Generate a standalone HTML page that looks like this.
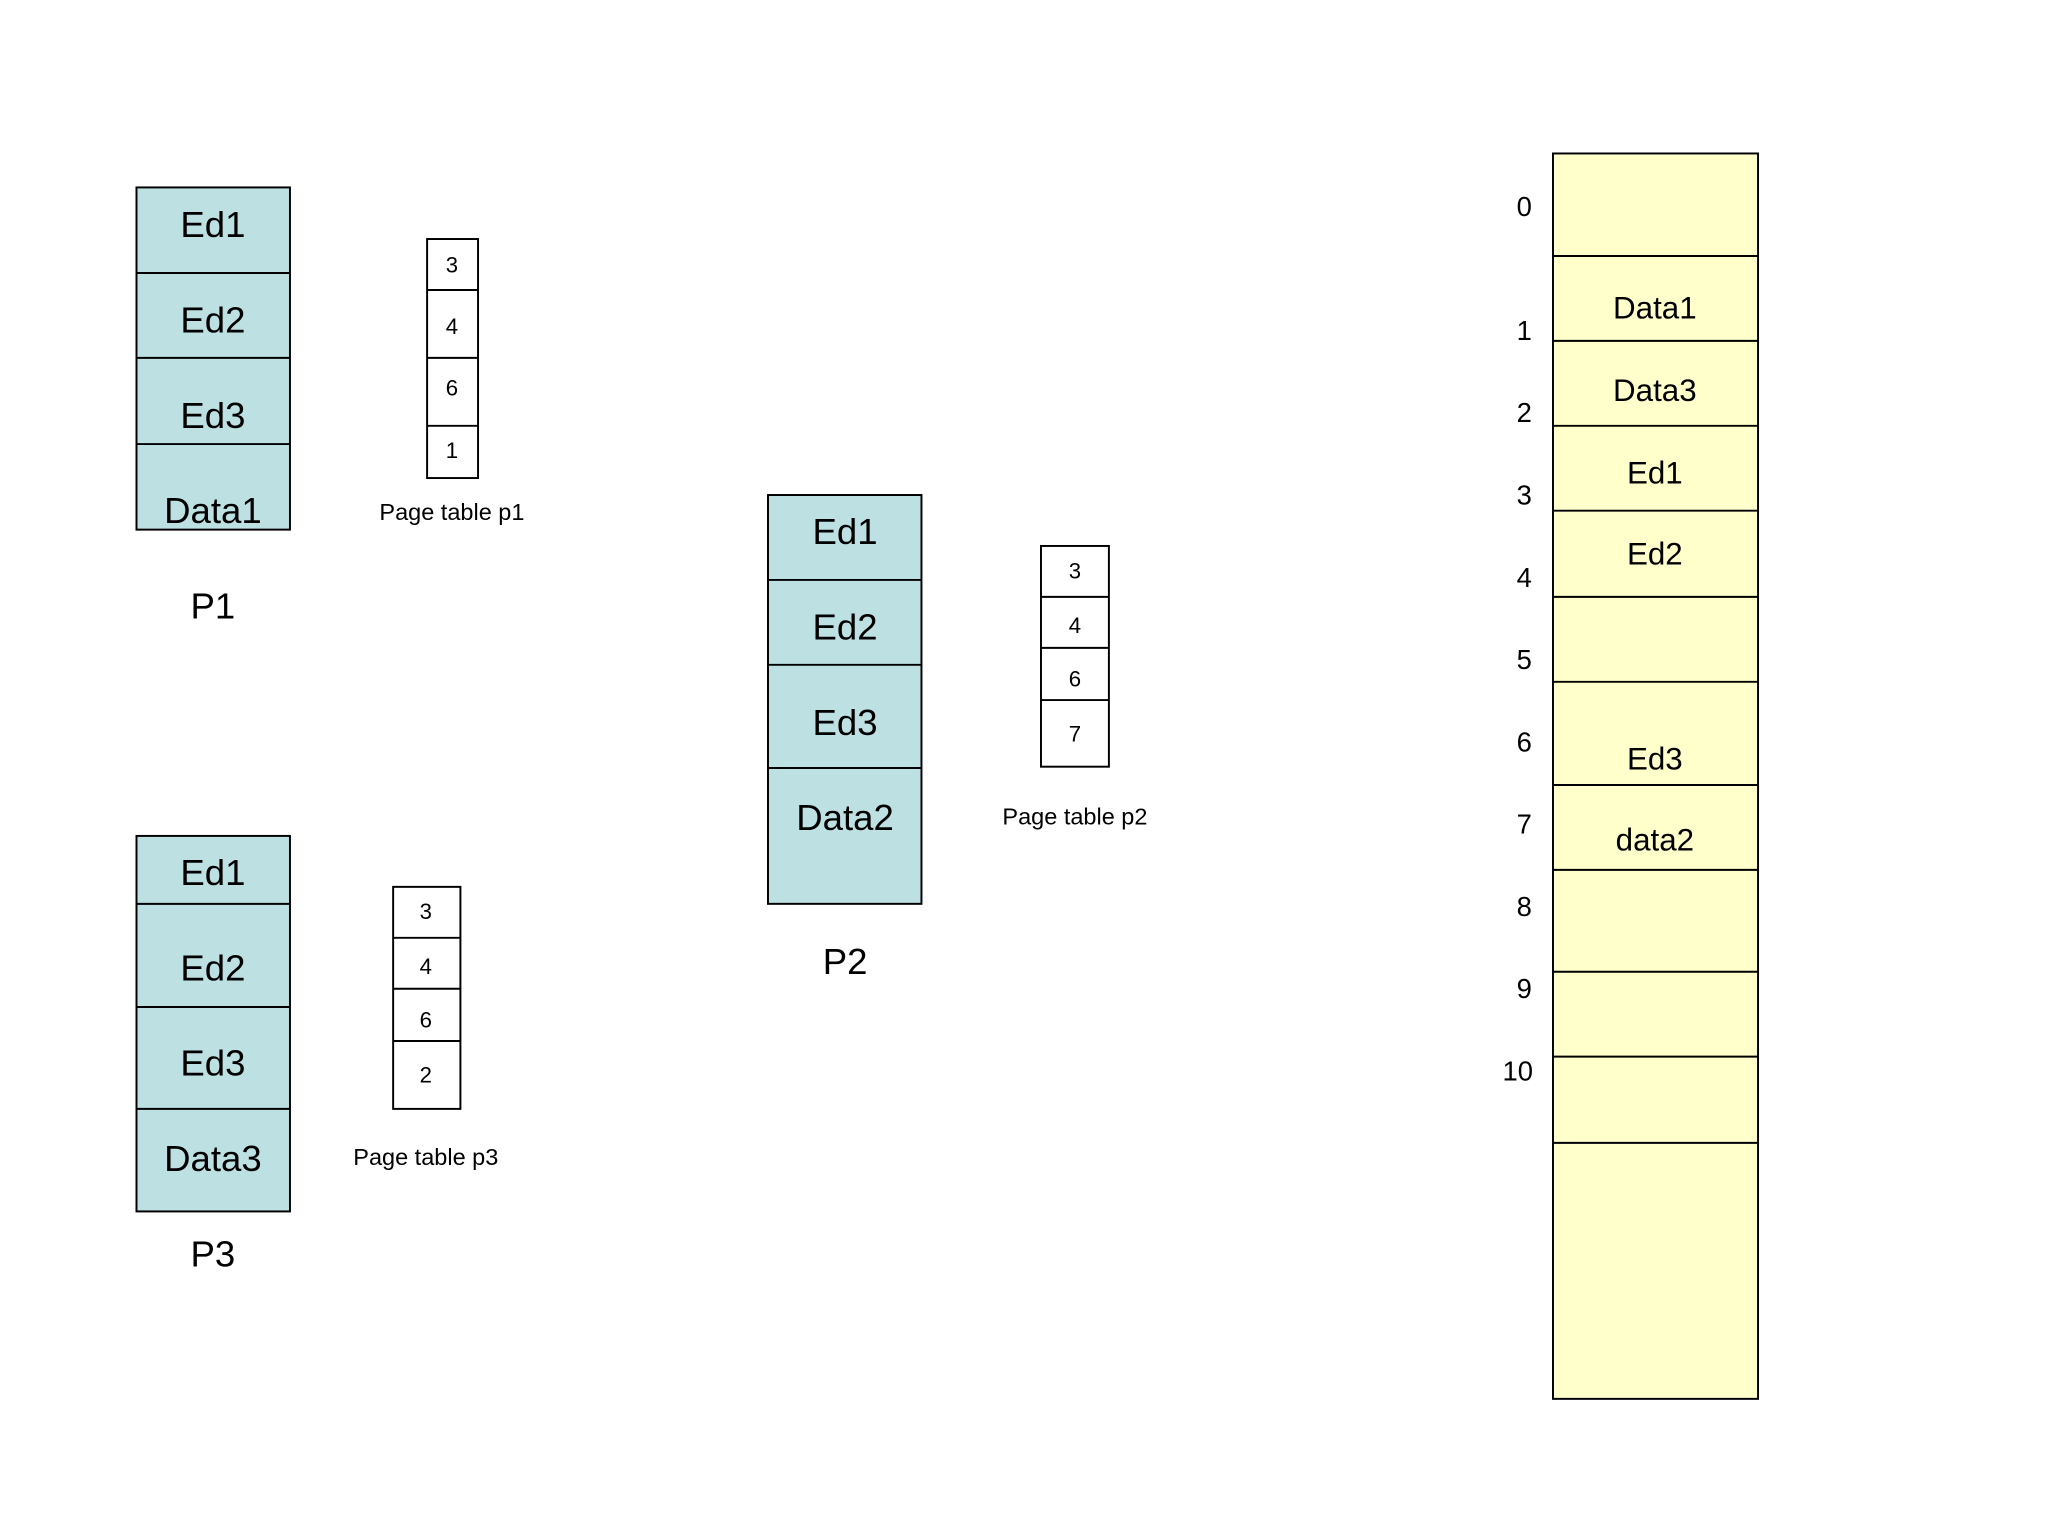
<!DOCTYPE html>
<html><head><meta charset="utf-8"><style>html,body{margin:0;padding:0;background:#fff}svg{display:block}</style></head>
<body>
<svg width="2048" height="1536" viewBox="0 0 1568 1176" xmlns="http://www.w3.org/2000/svg" font-family="Liberation Sans, Arial, sans-serif" text-anchor="middle" dominant-baseline="central">
<rect width="1568" height="1176" fill="#fff"/>
<g stroke="#000" stroke-width="1.5">
<!-- P1 -->
<rect x="104.5" y="143.5" width="117.5" height="262" fill="#bde0e3"/>
<line x1="104" y1="209" x2="222" y2="209"/><line x1="104" y1="274" x2="222" y2="274"/><line x1="104" y1="340" x2="222" y2="340"/>
<!-- P2 -->
<rect x="588" y="379" width="117.5" height="313" fill="#bde0e3"/>
<line x1="588" y1="444" x2="705" y2="444"/><line x1="588" y1="509" x2="705" y2="509"/><line x1="588" y1="588" x2="705" y2="588"/>
<!-- P3 -->
<rect x="104.5" y="640" width="117.5" height="287.5" fill="#bde0e3"/>
<line x1="104" y1="692" x2="222" y2="692"/><line x1="104" y1="771" x2="222" y2="771"/><line x1="104" y1="849" x2="222" y2="849"/>
<!-- PT1 -->
<rect x="327" y="183" width="39" height="183" fill="#fff"/>
<line x1="327" y1="222" x2="366" y2="222"/><line x1="327" y1="274" x2="366" y2="274"/><line x1="327" y1="326" x2="366" y2="326"/>
<!-- PT2 -->
<rect x="797" y="418" width="52" height="169" fill="#fff"/>
<line x1="797" y1="457" x2="849" y2="457"/><line x1="797" y1="496" x2="849" y2="496"/><line x1="797" y1="536" x2="849" y2="536"/>
<!-- PT3 -->
<rect x="301" y="679" width="51.5" height="170" fill="#fff"/>
<line x1="301" y1="718" x2="352" y2="718"/><line x1="301" y1="757" x2="352" y2="757"/><line x1="301" y1="797" x2="352" y2="797"/>
<!-- Memory -->
<rect x="1189" y="117.5" width="157" height="953.5" fill="#ffffcc"/>
<line x1="1189" y1="196" x2="1346" y2="196"/><line x1="1189" y1="261" x2="1346" y2="261"/><line x1="1189" y1="326" x2="1346" y2="326"/><line x1="1189" y1="391" x2="1346" y2="391"/><line x1="1189" y1="457" x2="1346" y2="457"/><line x1="1189" y1="522" x2="1346" y2="522"/><line x1="1189" y1="601" x2="1346" y2="601"/><line x1="1189" y1="666" x2="1346" y2="666"/><line x1="1189" y1="744" x2="1346" y2="744"/><line x1="1189" y1="809" x2="1346" y2="809"/><line x1="1189" y1="875" x2="1346" y2="875"/>
</g>
<g font-size="28" fill="#000">
<text x="163" y="172">Ed1</text><text x="163" y="245">Ed2</text><text x="163" y="318">Ed3</text><text x="163" y="391">Data1</text>
<text x="163" y="464">P1</text>
<text x="647" y="407">Ed1</text><text x="647" y="480">Ed2</text><text x="647" y="553">Ed3</text><text x="647" y="626">Data2</text>
<text x="647" y="736">P2</text>
<text x="163" y="668">Ed1</text><text x="163" y="741">Ed2</text><text x="163" y="814">Ed3</text><text x="163" y="887">Data3</text>
<text x="163" y="960">P3</text>
</g>
<g font-size="17">
<text x="346" y="203">3</text><text x="346" y="250">4</text><text x="346" y="297">6</text><text x="346" y="345">1</text>
<text x="823" y="437">3</text><text x="823" y="479">4</text><text x="823" y="520">6</text><text x="823" y="562">7</text>
<text x="326" y="698">3</text><text x="326" y="740">4</text><text x="326" y="781">6</text><text x="326" y="823">2</text>
</g>
<g font-size="18">
<text x="346" y="392">Page table p1</text>
<text x="823" y="625">Page table p2</text>
<text x="326" y="886">Page table p3</text>
</g>
<g font-size="24">
<text x="1267" y="236">Data1</text><text x="1267" y="299">Data3</text><text x="1267" y="362">Ed1</text><text x="1267" y="424">Ed2</text><text x="1267" y="581">Ed3</text><text x="1267" y="643">data2</text>
</g>
<g font-size="21">
<text x="1167" y="158">0</text><text x="1167" y="253">1</text><text x="1167" y="316">2</text><text x="1167" y="379">3</text><text x="1167" y="442">4</text><text x="1167" y="505">5</text><text x="1167" y="568">6</text><text x="1167" y="631">7</text><text x="1167" y="694">8</text><text x="1167" y="757">9</text><text x="1162" y="820">10</text>
</g>
</svg>
</body></html>
